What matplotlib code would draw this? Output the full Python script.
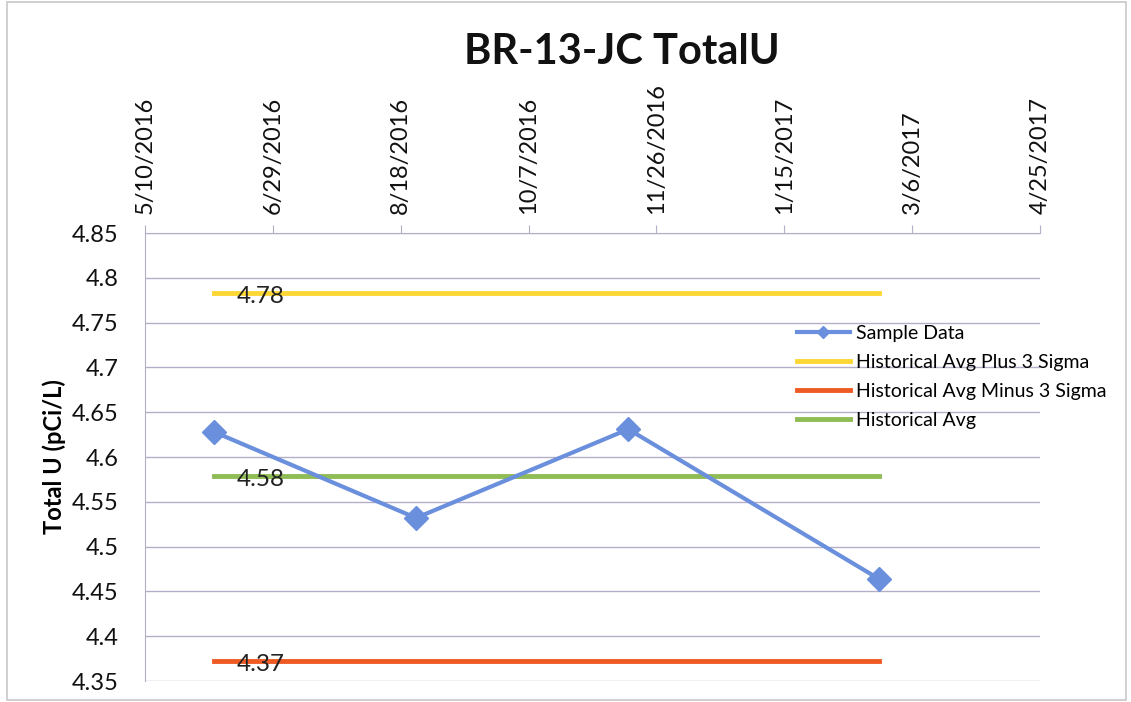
import matplotlib
matplotlib.use("Agg")
import matplotlib.pyplot as plt
import matplotlib.dates as mdates
from matplotlib.patches import Rectangle
from datetime import date, timedelta

# ---- data ----
sample_dates = [date(2016, 6, 6), date(2016, 8, 24), date(2016, 11, 15), date(2017, 2, 21)]
sample_values = [4.628, 4.532, 4.631, 4.464]
avg_plus_3sigma = 4.783
avg_minus_3sigma = 4.372
hist_avg = 4.579
x_start = date(2016, 5, 10)
x_end = date(2017, 4, 25)
tick_step_days = 50
y_ticks = [4.35, 4.4, 4.45, 4.5, 4.55, 4.6, 4.65, 4.7, 4.75, 4.8, 4.85]

title = "BR-13-JC TotalU"
ylabel = "Total U (pCi/L)"

plt.rcParams['font.family'] = ['Lato', 'DejaVu Sans']

fig = plt.figure(figsize=(11.31, 7.02), dpi=100)
fig.patches.append(Rectangle((0.006, 0.003), 0.99, 0.994, transform=fig.transFigure,
                             fill=False, edgecolor='#c8c8c8', linewidth=1.2))
ax = fig.add_axes([145/1131, 1-681/702, (1040-145)/1131, (681-233)/702])

c_blue = '#6a8fdc'
c_yellow = '#fdd835'
c_orange = '#ee5a24'
c_green = '#8fbc54'
c_grid = '#b4aec8'

ax.plot(sample_dates, sample_values, color=c_blue, lw=3, marker='D', ms=12,
        label='Sample Data', zorder=5)
line_x = [sample_dates[0], sample_dates[-1]]
ax.plot(line_x, [avg_plus_3sigma]*2, color=c_yellow, lw=3.5, label='Historical Avg Plus 3 Sigma', zorder=3)
ax.plot(line_x, [avg_minus_3sigma]*2, color=c_orange, lw=3.5, label='Historical Avg Minus 3 Sigma', zorder=3)
ax.plot(line_x, [hist_avg]*2, color=c_green, lw=3.5, label='Historical Avg', zorder=3)

for v in (avg_plus_3sigma, hist_avg, avg_minus_3sigma):
    ax.annotate(f"{v:.2f}", xy=(mdates.date2num(sample_dates[0]), v), xytext=(16, -2.5),
                textcoords='offset points', ha='left', va='center', fontsize=17.5,
                color='#222222', zorder=6)

ax.set_xlim(x_start, x_end)
ax.set_ylim(4.35, 4.85)
ticks = []
d = x_start
while d <= x_end:
    ticks.append(d)
    d += timedelta(days=tick_step_days)
ax.set_xticks(ticks)
ax.set_xticklabels([f"{t.month}/{t.day}/{t.year}" for t in ticks], rotation=90, fontsize=17)
ax.xaxis.tick_top()
ax.tick_params(axis='x', direction='out', length=6, color=c_grid, pad=8, labelcolor='#111111')
ax.set_yticks(y_ticks)
ax.set_yticklabels([f"{v:g}" for v in y_ticks], fontsize=17, color='#111111')
ax.tick_params(axis='y', length=0, pad=19)
ax.grid(axis='y', color=c_grid, lw=1)
ax.set_axisbelow(True)
for s in ('right', 'bottom'):
    ax.spines[s].set_visible(False)
ax.spines['top'].set_color(c_grid)
ax.spines['left'].set_color(c_grid)

ax.set_ylabel(ylabel, fontsize=17, fontweight='bold', labelpad=4)
fig.text(0.55, 0.926, title, ha='center', va='center', fontsize=30, fontweight='bold', color='#111111')

leg = ax.legend(loc='upper left', bbox_to_anchor=(0.72, 0.812), frameon=False, fontsize=14,
                handlelength=2.7, labelspacing=0.62, handletextpad=0.3, markerscale=0.5,
                borderaxespad=0)

fig.savefig("out.png", dpi=100)
